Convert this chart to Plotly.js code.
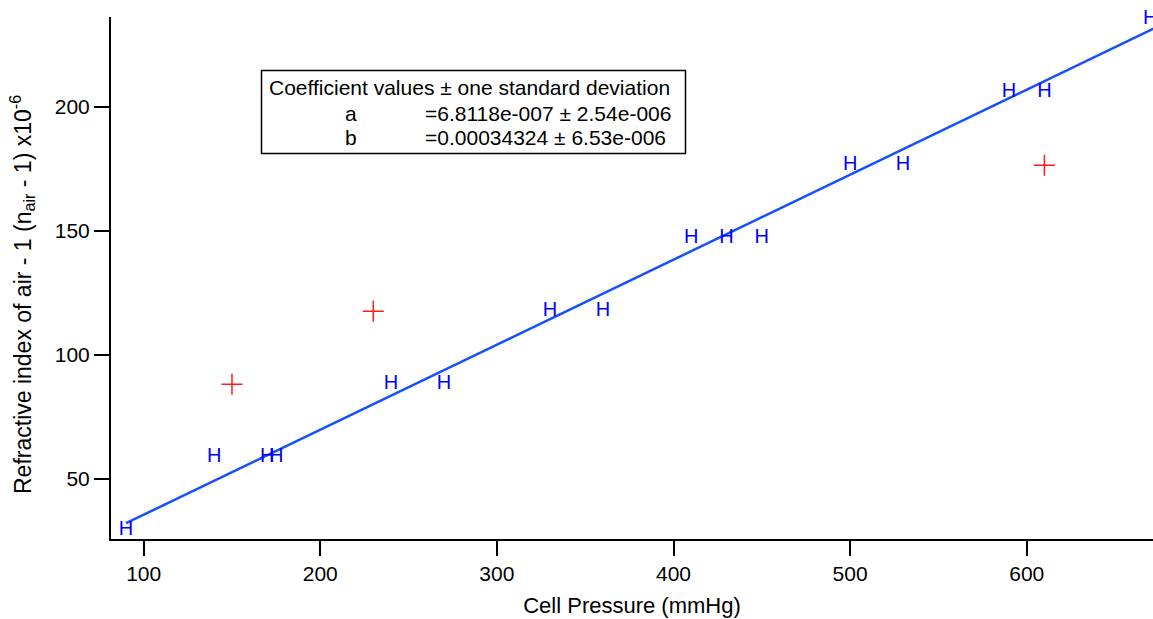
<!DOCTYPE html>
<html>
<head>
<meta charset="utf-8">
<script src="https://cdn.plot.ly/plotly-3.0.1.min.js"></script>
<style>html,body{margin:0;padding:0;background:#fff;}#chart{width:1153px;height:619px;}</style>
</head>
<body>
<div id="chart"></div>
<script>
// Measured points (blue "H" markers)
var pressureH = [90, 140, 170, 175, 240, 270, 330, 360, 410, 430, 450, 500, 530, 590, 610, 670];
var indexH    = [29.4, 58.8, 58.8, 58.8, 88.2, 88.2, 117.6, 117.6, 147.0, 147.0, 147.0, 176.4, 176.4, 205.8, 205.8, 235.2];
// Outlier points (red crosses)
var pressureOut = [150, 230, 610];
var indexOut    = [88.2, 117.6, 176.4];
// Fit line end points
var fitX = [90, 672];
var fitY = [32.2, 231.5];
// Text of the coefficient box
var boxTitle = "Coefficient values \u00b1 one standard deviation";
var coefNames = ["a", "b"];
var coefValues = ["=6.8118e-007 \u00b1 2.54e-006", "=0.00034324 \u00b1 6.53e-006"];
var xTicks = [100, 200, 300, 400, 500, 600];
var yTicks = [50, 100, 150, 200];
var xTitle = "Cell Pressure (mmHg)";
var yTitle = "Refractive index of air - 1 (n<sub>air</sub> - 1) x10<sup>-6</sup>";

var FONT = "Liberation Sans, Arial, sans-serif";
var FS = 21;

var traces = [
  {x: fitX, y: fitY, mode: "lines", type: "scatter",
   line: {color: "#1450ff", width: 2.5}, hoverinfo: "skip", showlegend: false},
  {x: pressureH, y: indexH, mode: "text", type: "scatter",
   text: pressureH.map(function(){return "H";}), textposition: "middle center",
   textfont: {family: FONT, size: 20, color: "#0000ff"}, showlegend: false, cliponaxis: false},
  {x: pressureOut, y: indexOut, mode: "markers", type: "scatter",
   marker: {symbol: "cross-thin-open", size: 15, color: "#ff1a1a", line: {color: "#ff1a1a", width: 1.5}},
   showlegend: false}
];

// paper coordinate helpers (plot area: x 111..1153, y 17..539 px)
function px(v){ return (v - 111) / 1042; }
function py(v){ return (539 - v) / 522; }

var annotations = [
  {xref: "paper", yref: "paper", x: px(267), y: py(87), xanchor: "left", yanchor: "middle",
   text: boxTitle, showarrow: false, font: {family: FONT, size: FS, color: "#000"}},
  {xref: "paper", yref: "paper", x: px(22), y: py(295), xanchor: "center", yanchor: "middle",
   textangle: -90, text: yTitle, showarrow: false, font: {family: FONT, size: 23, color: "#000"}}
];
for (var i = 0; i < coefNames.length; i++) {
  annotations.push({xref: "paper", yref: "paper", x: px(351), y: py(113 + 25 * i), xanchor: "center", yanchor: "middle",
    text: coefNames[i], showarrow: false, font: {family: FONT, size: FS, color: "#000"}});
  annotations.push({xref: "paper", yref: "paper", x: px(423), y: py(113 + 25 * i), xanchor: "left", yanchor: "middle",
    text: coefValues[i], showarrow: false, font: {family: FONT, size: FS, color: "#000"}});
}

var layout = {
  width: 1153, height: 619,
  margin: {l: 111, r: 0, t: 17, b: 80},
  paper_bgcolor: "#fff", plot_bgcolor: "#fff",
  font: {family: FONT, size: FS, color: "#000"},
  showlegend: false,
  xaxis: {
    range: [81.5, 671.5], showgrid: false, zeroline: false,
    showline: true, linecolor: "#000", linewidth: 2, mirror: false,
    ticks: "outside", ticklen: 15, tickwidth: 2, tickcolor: "#000",
    tickvals: xTicks, ticktext: xTicks.map(String),
    tickfont: {family: FONT, size: FS, color: "#000"},
    title: {text: xTitle, font: {family: FONT, size: 22, color: "#000"}, standoff: 13}
  },
  yaxis: {
    range: [25.85, 236.1], showgrid: false, zeroline: false,
    showline: true, linecolor: "#000", linewidth: 2, mirror: false,
    ticks: "outside", ticklen: 15, tickwidth: 2, tickcolor: "#000",
    tickvals: yTicks, ticktext: yTicks.map(String),
    tickfont: {family: FONT, size: FS, color: "#000"}
  },
  shapes: [
    {type: "rect", xref: "paper", yref: "paper", x0: px(261.5), x1: px(685.5), y0: py(153.5), y1: py(70.5),
     line: {color: "#000", width: 1.5}, fillcolor: "rgba(0,0,0,0)"}
  ],
  annotations: annotations
};

Plotly.newPlot("chart", traces, layout, {displayModeBar: false, staticPlot: true});
</script>
</body>
</html>
